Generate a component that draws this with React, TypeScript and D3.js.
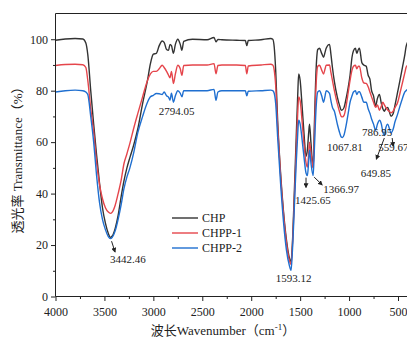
import React, { useEffect, useRef } from 'react';
import * as d3 from 'd3';

// 波数 (cm-1), 三条曲线共用
const wavenumbers = [
  4000, 3900, 3800, 3720, 3690, 3670, 3640, 3610, 3580, 3550,
  3520, 3490, 3460, 3440, 3420, 3390, 3360, 3330, 3300, 3270,
  3240, 3200, 3160, 3110, 3060, 3030, 3000, 2970, 2940, 2910,
  2890, 2865, 2845, 2830, 2815, 2795, 2775, 2750, 2725, 2708,
  2690, 2600, 2450, 2380, 2360, 2340, 2300, 2150, 2060, 2045,
  2030, 1900, 1800, 1780, 1765, 1750, 1730, 1700, 1670, 1640,
  1610, 1593, 1580, 1560, 1540, 1525, 1515, 1500, 1480, 1460,
  1440, 1426, 1412, 1404, 1390, 1367, 1355, 1336, 1320, 1302,
  1280, 1261, 1245, 1234, 1200, 1185, 1170, 1150, 1120, 1095,
  1080, 1068, 1050, 1030, 1010, 990, 970, 955, 935, 921,
  905, 894, 870, 850, 825, 805, 787, 770, 750, 729,
  710, 690, 670, 655, 640, 625, 605, 590, 571, 550,
  530, 503, 480, 455, 430, 418, 400
];

const chp = [
  99.6, 100.1, 100.3, 100.1, 98.5, 94, 80, 67, 55, 44,
  34.5, 28.5, 24.5, 23, 23.5, 26.5, 31.5, 38.6, 45, 50,
  54, 59, 65, 75, 84, 90.5, 94.2, 94.5, 97.5, 99.3,
  98.8, 96, 95.7, 98, 97.5, 94.5, 98, 100, 98, 95.7,
  99.2, 100, 99.8, 100.7, 99, 99.9, 99.8, 99.6, 99.5, 97.5,
  99.5, 99.8, 100.3, 100, 97, 88, 68.5, 48, 33, 22,
  15, 13.5, 20, 40, 62, 78, 86.5, 84, 74, 63,
  54.5, 57, 64, 67, 60, 50, 66, 89, 96, 96.5,
  94.5, 93, 95, 96.5, 98, 94, 89, 83.5, 77.5, 74,
  72.4, 72.5, 73.6, 77, 81, 86, 93, 95.5, 96.5, 94.5,
  96, 96.5, 91, 90, 89.5, 86, 84.5, 80, 78, 74,
  77, 78.5, 75, 73, 72, 73, 73.5, 72, 70, 71,
  74.5, 79.6, 84, 89, 94, 97, 99
];

const chpp1 = [
  89.8, 90.2, 90.3, 90.1, 89, 84, 73, 64, 52, 43.5,
  38, 34.5, 32.8, 32.3, 32.8, 35.5, 40, 45, 51.7, 55.5,
  59.5, 65.5, 71, 77.6, 84, 86.5, 87.5, 87.5, 88.5, 89.9,
  89, 87.5, 86, 85, 87.5, 82.8, 86.5, 89.9, 88.5, 86,
  89.8, 90, 90, 90.5, 86.6, 89.8, 90, 90, 89.8, 86.6,
  89.6, 90, 90.3, 90, 88, 82, 66, 47, 32, 21,
  14, 12.5, 19, 37, 57, 71, 77.6, 76, 68, 59,
  52, 50.3, 56, 60, 56, 50, 62, 83, 89.5, 89.9,
  88, 86.5, 88.5, 89.9, 90, 87, 84, 80, 75, 71.5,
  70, 69.8, 70.5, 74, 79, 84, 88, 89.5, 89.9, 88.5,
  89.5, 89.5, 85, 83, 82.8, 81.5, 79.5, 77.6, 75.5, 73.5,
  74.5, 72.4, 74, 75.5, 74.5, 73.5, 72.5, 72, 71.4, 72,
  73.5, 75.5, 79, 83, 87, 89, 90
];

const chpp2 = [
  79.5, 80, 80.2, 80, 79.5, 78.5, 70, 60, 47, 36.5,
  30, 26, 23.3, 22.5, 23, 25.5, 30, 35.5, 42, 46.5,
  50, 56, 63.5, 70, 75.5, 77.6, 78.2, 78.9, 78.8, 78.5,
  79.5, 78, 77.5, 76.3, 79, 75.5, 78, 80, 79, 77.6,
  80, 80, 80, 80.5, 76.3, 79.5, 80, 80, 80, 78,
  79.8, 80, 80.2, 80, 79, 75, 62, 44, 29, 18,
  12, 10.1, 17, 34, 52, 63, 68.5, 67, 61, 54,
  48, 47, 53, 57, 52, 47, 57, 74, 79.5, 80,
  78, 75.5, 78, 80, 79, 76, 73.5, 72, 67, 63.5,
  62, 61.8, 63, 66.5, 71, 75.5, 78, 79.5, 80, 78.5,
  79.5, 79.6, 77.5, 75.5, 75.5, 73, 71.2, 69, 67, 64.6,
  67, 68.5, 67, 64, 62.6, 65.5, 67, 65.5, 63.6, 65,
  68, 71, 74, 77, 79.5, 80, 80.5
];

const seriesNames = ['CHP', 'CHPP-1', 'CHPP-2'];
const xTicks = [4000, 3500, 3000, 2500, 2000, 1500, 1000, 500];
const yTicks = [0, 20, 40, 60, 80, 100];
const peakWavenumbers = [3442.46, 2794.05, 1593.12, 1425.65, 1366.97, 1067.81, 786.95, 649.85, 559.67];

const W = 407;
const H = 340;
const FONT = '"Liberation Serif", "Times New Roman", "Noto Sans CJK SC", serif';
const COLORS = ['#333333', '#e5454b', '#1f6fd0'];

const App = () => {
  const svgRef = useRef<SVGSVGElement>(null);

  useEffect(() => {
    const svg = d3.select(svgRef.current);
    svg.selectAll('*').remove();

    const left = 55.5, top = 13.5, bottom = 296.5;
    const x = d3.scaleLinear().domain([4000, 500]).range([left, 398]);
    const y = d3.scaleLinear().domain([0, 110]).range([bottom, top]);

    const defs = svg.append('defs');
    defs.append('clipPath').attr('id', 'plotClip')
      .append('rect')
      .attr('x', left).attr('y', top)
      .attr('width', W - left).attr('height', bottom - top);
    defs.append('marker')
      .attr('id', 'arr')
      .attr('viewBox', '0 0 6 6')
      .attr('refX', 5).attr('refY', 3)
      .attr('markerWidth', 5).attr('markerHeight', 5)
      .attr('orient', 'auto')
      .append('path')
      .attr('d', 'M0,0 L6,3 L0,6 z')
      .attr('fill', '#222');

    // 曲线
    const line = d3.line<number>()
      .x((d, i) => x(wavenumbers[i]))
      .y(d => y(d))
      .curve(d3.curveMonotoneX);

    const lines = svg.append('g').attr('clip-path', 'url(#plotClip)');
    [chp, chpp1, chpp2].forEach((vals, k) => {
      lines.append('path')
        .datum(vals)
        .attr('fill', 'none')
        .attr('stroke', COLORS[k])
        .attr('stroke-width', 1.4)
        .attr('stroke-linejoin', 'round')
        .attr('d', line);
    });

    // 坐标轴
    const styleAxis = (g: any) => {
      g.select('.domain').remove();
      g.selectAll('line').attr('stroke', '#222');
      g.selectAll('text')
        .style('font-family', FONT)
        .style('font-size', '12px')
        .attr('fill', '#222');
    };

    const minorY = d3.range(10, 110, 20);
    const minorX = d3.range(3750, 500, -500);

    svg.append('g')
      .attr('transform', `translate(${left},0)`)
      .call(d3.axisLeft(y).tickValues(minorY).tickSize(2.5).tickFormat(() => ''))
      .call(styleAxis);
    svg.append('g')
      .attr('transform', `translate(${left},0)`)
      .call(d3.axisLeft(y).tickValues(yTicks).tickSize(4.5).tickPadding(3).tickFormat(d3.format('d')))
      .call(styleAxis);

    svg.append('g')
      .attr('transform', `translate(0,${bottom})`)
      .call(d3.axisBottom(x).tickValues(minorX).tickSize(2.5).tickFormat(() => ''))
      .call(styleAxis);
    svg.append('g')
      .attr('transform', `translate(0,${bottom})`)
      .call(d3.axisBottom(x).tickValues(xTicks).tickSize(4.5).tickPadding(6).tickFormat(d3.format('d')))
      .call(styleAxis);

    // 边框线
    svg.append('path')
      .attr('d', `M${W},${top}H${left}V${bottom}H${W}`)
      .attr('fill', 'none')
      .attr('stroke', '#222')
      .attr('stroke-width', 1);

    // 轴标题
    svg.append('text')
      .attr('transform', `translate(22,${(top + bottom) / 2 + 2}) rotate(-90)`)
      .attr('text-anchor', 'middle')
      .style('font-family', FONT)
      .style('font-size', '13px')
      .attr('fill', '#222')
      .text('透光率 Transmittance（%）');

    const xt = svg.append('text')
      .attr('x', 223).attr('y', 335)
      .attr('text-anchor', 'middle')
      .style('font-family', FONT)
      .style('font-size', '13px')
      .attr('fill', '#222');
    xt.append('tspan').text('波长Wavenumber（cm');
    xt.append('tspan').attr('dy', -5).style('font-size', '9px').text('-1');
    xt.append('tspan').attr('dy', 5).text('）');

    // 峰标注
    const layout = [
      { dx: 0, ty: 13.2, anchor: 'start', arrow: [[1.5, 21.5], [5, 17.3]] },
      { dx: 3, ty: 70.7, anchor: 'middle', arrow: null },
      { dx: 2.5, ty: 5.8, anchor: 'middle', arrow: null },
      { dx: 5.5, ty: 35.8, anchor: 'middle', arrow: [[-1.4, 46.2], [-1.4, 42.4]] },
      { dx: 10, ty: 40.4, anchor: 'start', arrow: [[1, 46.4], [9, 43.4]] },
      { dx: -15.5, ty: 56.4, anchor: 'start', arrow: null },
      { dx: -8, ty: 62.2, anchor: 'start', arrow: null },
      { dx: -7.5, ty: 46.6, anchor: 'middle', arrow: [[1, 61.6], [-7, 53.4]] },
      { dx: -14, ty: 56.7, anchor: 'start', arrow: [[0, 61.6], [1, 58.4]] }
    ];

    peakWavenumbers.forEach((wn, i) => {
      const L = layout[i];
      const px = x(wn);
      svg.append('text')
        .attr('x', px + L.dx)
        .attr('y', y(L.ty))
        .attr('text-anchor', L.anchor)
        .style('font-family', FONT)
        .style('font-size', '11px')
        .attr('fill', '#222')
        .text(wn.toFixed(2));
      if (L.arrow) {
        svg.append('line')
          .attr('x1', px + L.arrow[0][0]).attr('y1', y(L.arrow[0][1]))
          .attr('x2', px + L.arrow[1][0]).attr('y2', y(L.arrow[1][1]))
          .attr('stroke', '#222')
          .attr('stroke-width', 1)
          .attr('marker-end', 'url(#arr)');
      }
    });

    // 图例
    const legend = svg.append('g').attr('transform', 'translate(172,218)');
    seriesNames.forEach((name, i) => {
      const row = legend.append('g').attr('transform', `translate(0,${i * 15})`);
      row.append('line')
        .attr('x1', 0).attr('x2', 26)
        .attr('stroke', COLORS[i])
        .attr('stroke-width', 1.4);
      row.append('text')
        .attr('x', 30).attr('y', 4)
        .style('font-family', FONT)
        .style('font-size', '12px')
        .attr('fill', '#222')
        .text(name);
    });
  }, []);

  return (
    <div style={{ position: 'fixed', left: 0, top: 0 }}>
      <svg ref={svgRef} width={W} height={H} style={{ display: 'block', background: '#fff' }} />
    </div>
  );
};

export default App;
